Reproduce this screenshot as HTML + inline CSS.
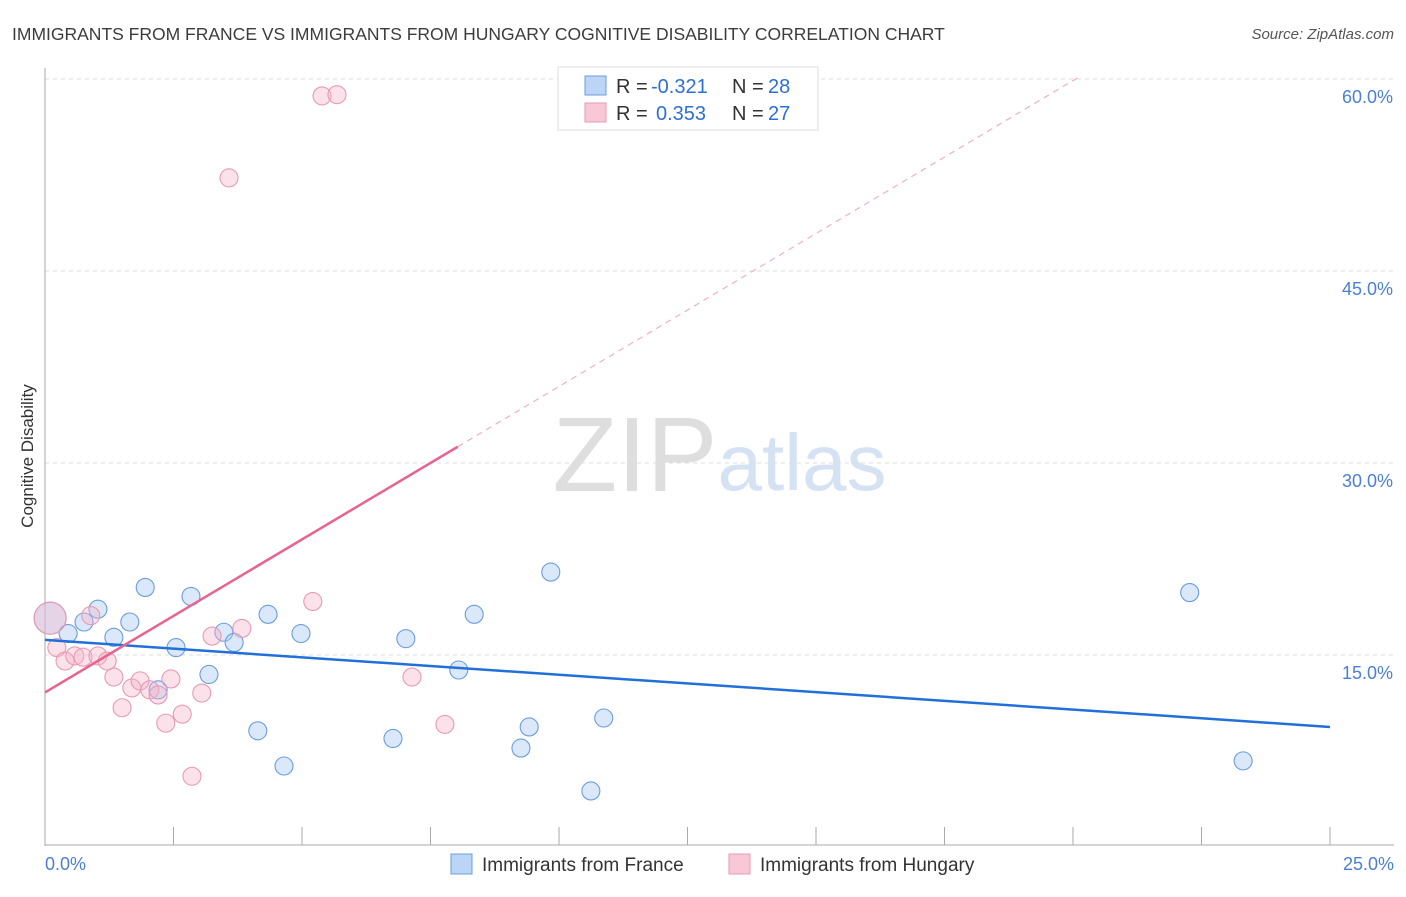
<!DOCTYPE html>
<html><head><meta charset="utf-8"><style>
body{margin:0;background:#fff;font-family:"Liberation Sans",sans-serif;}
svg text{font-family:"Liberation Sans",sans-serif;}
</style></head><body>
<svg id="c" width="1406" height="892" xmlns="http://www.w3.org/2000/svg">
<text x="12" y="40" font-size="17.5" fill="#3c3c3c">IMMIGRANTS FROM FRANCE VS IMMIGRANTS FROM HUNGARY COGNITIVE DISABILITY CORRELATION CHART</text>
<text x="1394" y="39" font-size="15" fill="#555" font-style="italic" text-anchor="end">Source: ZipAtlas.com</text>
<g>
<text x="635" y="491" font-size="106" fill="#dedede" text-anchor="middle" font-family="Liberation Serif">ZIP</text>
<text x="802" y="490" font-size="80" fill="#d4e2f4" text-anchor="middle">atlas</text>
</g>
<g id="grid"></g>
<g id="axes"></g>
<g id="marks"></g>
<text transform="translate(33,456) rotate(-90)" font-size="17" fill="#333" text-anchor="middle">Cognitive Disability</text>
<text x="45" y="870" font-size="18" fill="#4a7fd4">0.0%</text>
<text x="1394" y="870" font-size="18" fill="#4a7fd4" text-anchor="end">25.0%</text>
<g>
<rect x="558" y="67" width="260" height="63" fill="#fff" stroke="#ddd"/>
<rect x="585" y="76" width="21" height="19" fill="#bcd4f5" stroke="#6a9de0"/>
<rect x="585" y="103" width="21" height="19" fill="#f9c8d7" stroke="#e89ab3"/>
<text x="616" y="93" font-size="20" fill="#333">R = <tspan x="651" fill="#2e6fd6">-0.321</tspan><tspan x="732">N = </tspan><tspan x="768" fill="#2e6fd6">28</tspan></text>
<text x="616" y="120" font-size="20" fill="#333">R = <tspan x="656" fill="#2e6fd6">0.353</tspan><tspan x="732">N = </tspan><tspan x="768" fill="#2e6fd6">27</tspan></text>
</g>
<g>
<rect x="451" y="854" width="21" height="20" fill="#bcd4f5" stroke="#6a9de0"/>
<text x="482" y="871" font-size="19" fill="#333">Immigrants from France</text>
<rect x="729" y="854" width="21" height="20" fill="#f9c8d7" stroke="#e89ab3"/>
<text x="760" y="871" font-size="19" fill="#333">Immigrants from Hungary</text>
</g>
</svg>
<script>
const yTicks=[15,30,45,60];
const yTickLabels=["15.0%","30.0%","45.0%","60.0%"];
const xTicks=[0,2.5,5,7.5,10,12.5,15,17.5,20,22.5,25];
const franceX=[0.10,0.45,0.76,1.03,1.34,1.65,1.95,2.55,2.84,2.20,3.19,3.48,3.68,4.14,4.34,4.65,4.98,6.77,7.02,8.05,8.35,9.26,9.42,9.84,10.62,10.87,22.27,23.31];
const franceY=[17.8,16.6,17.5,18.5,16.3,17.5,20.2,15.5,19.5,12.2,13.4,16.7,15.9,9.0,18.1,6.25,16.6,8.4,16.2,13.75,18.1,7.65,9.3,21.4,4.3,10.0,19.8,6.65];
const hungaryX=[0.10,0.23,0.39,0.58,0.74,0.89,1.03,1.21,1.34,1.50,1.69,1.85,2.04,2.20,2.35,2.45,2.67,2.86,3.05,3.25,3.58,3.83,5.21,5.39,5.68,7.14,7.78];
const hungaryY=[17.8,15.5,14.45,14.85,14.75,18.0,14.85,14.45,13.2,10.8,12.35,12.9,12.2,11.8,9.6,13.05,10.3,5.45,11.95,16.4,52.2,17.0,19.1,58.6,58.7,13.2,9.5];
const franceTrend=[16.1,9.3];
const hungaryTrend=[12.0,2.39];
const NS="http://www.w3.org/2000/svg";
const X=v=>45+v/25*1285, Y=v=>846-v/15*192;
function mk(t,a,p){const e=document.createElementNS(NS,t);for(const k in a)e.setAttribute(k,a[k]);p.appendChild(e);return e;}
const grid=document.getElementById('grid'),axes=document.getElementById('axes'),marks=document.getElementById('marks');
yTicks.forEach((t,i)=>{
 const l=mk('line',{x1:45,x2:1394,y1:Y(t)+1,y2:Y(t)+1,stroke:'#ddd','stroke-dasharray':'4,4'},grid);
 
 
 const tx=mk('text',{x:1393,y:Y(t)+25,'font-size':18,fill:'#4a7fd4','text-anchor':'end'},grid);
 tx.textContent=yTickLabels[i];
 
 
});
const ya=mk('line',{x1:45,x2:45,y1:68,y2:846,stroke:'#aaa'},axes);


const xa=mk('line',{x1:45,x2:1394,y1:845,y2:845,stroke:'#aaa'},axes);


xTicks.forEach(t=>{
 const l=mk('line',{x1:X(t),x2:X(t),y1:827,y2:845,stroke:'#aaa'},axes);
 
 
});
function dots(xs,ys,fill,stroke,name){
 xs.forEach((x,i)=>{
  const big=i===0;
  const c=mk('circle',{cx:X(x),cy:Y(ys[i]),r:big?16:9,fill:fill,stroke:stroke,'stroke-width':1.1},marks);
  
  
 });
}
dots(franceX,franceY,'rgba(170,200,240,0.42)','#6a9de0','france-point');
dots(hungaryX,hungaryY,'rgba(245,180,200,0.38)','#e89ab3','hungary-point');
const bl=mk('line',{x1:X(0),y1:Y(franceTrend[0]),x2:X(25),y2:Y(franceTrend[1]),stroke:'#2170d9','stroke-width':2.5},marks);


const hx=8.03, hEnd=(60-hungaryTrend[0])/hungaryTrend[1];
const pl=mk('line',{x1:X(0),y1:Y(hungaryTrend[0]),x2:X(hx),y2:Y(hungaryTrend[0]+hungaryTrend[1]*hx),stroke:'#e8638f','stroke-width':2.5},marks);


const pd=mk('line',{x1:X(hx),y1:Y(hungaryTrend[0]+hungaryTrend[1]*hx),x2:X(hEnd),y2:Y(60),stroke:'#eeb0c4','stroke-width':1.2,'stroke-dasharray':'6,5'},marks);


</script>
</body></html>
